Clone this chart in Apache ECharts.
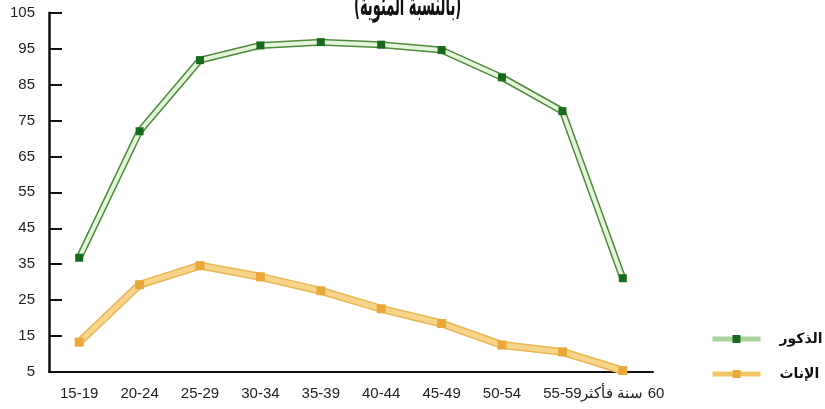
<!DOCTYPE html>
<html>
<head>
<meta charset="utf-8">
<script src="https://cdn.jsdelivr.net/npm/echarts@6/dist/echarts.min.js"></script>
<style>
html,body{margin:0;padding:0;background:#fff;}
#chart{width:825px;height:409px;}
</style>
</head>
<body>
<div id="chart"></div>
<script>
var categories = ['15-19','20-24','25-29','30-34','35-39','40-44','45-49','50-54','55-59','سنة فأكثر \u200E60'];
var yTicks = [5,15,25,35,45,55,65,75,85,95,105];
var males = [36.8, 72, 91.8, 95.9, 96.8, 96.1, 94.6, 87, 77.6, 31.1];
var females = [13.3, 29.3, 34.6, 31.5, 27.6, 22.6, 18.5, 12.5, 10.6, 5.4];
var maleName = 'الذكور';
var femaleName = 'الإناث';
var titleText = '(بالنسبة المئوية)';

var chart = echarts.init(document.getElementById('chart'), null, {renderer:'canvas'});
var font = 'Liberation Sans';
var option = {
  animation:false,
  backgroundColor:'#ffffff',
  graphic:[{
    type:'text', x:354, y:-9, scaleX:0.42, z:10,
    style:{text:titleText, fontSize:31, fontWeight:'bold', fill:'#111', fontFamily:'DejaVu Sans'}
  }],
  legend:{
    orient:'vertical', left:705, top:327, itemWidth:48, itemHeight:10, itemGap:21,
    data:[
      {name:maleName, lineStyle:{color:'#a9d298', width:5},
       textStyle:{padding:[0,0,14,14]}},
      {name:femaleName, lineStyle:{color:'#f0c666', width:5},
       textStyle:{padding:[14,0,0,14]}}
    ],
    textStyle:{fontSize:14, fontWeight:'bold', color:'#111', fontFamily:'DejaVu Sans'}
  },
  grid:{left:49, right:172, top:12.7, bottom:37},
  xAxis:{
    type:'category', data:categories, boundaryGap:true,
    axisLine:{lineStyle:{color:'#111', width:2}},
    axisTick:{inside:true, length:7, lineStyle:{color:'#111', width:2}},
    axisLabel:{fontSize:15, color:'#222', fontFamily:font, margin:14, interval:0}
  },
  yAxis:{
    type:'value', min:yTicks[0], max:yTicks[yTicks.length-1], interval:10,
    splitLine:{show:false},
    axisLine:{show:true, lineStyle:{color:'#111', width:2.5}},
    axisTick:{show:true, inside:true, length:13, lineStyle:{color:'#111', width:2}},
    axisLabel:{fontSize:15, color:'#222', fontFamily:font, margin:14}
  },
  series:[
    {name:'m-outline', type:'line', data:males, symbol:'none', silent:true,
     lineStyle:{color:'#4f8a3c', width:7}, z:1},
    {name:maleName, type:'line', data:males, symbol:'rect', symbolSize:8,
     itemStyle:{color:'#186a1c'}, lineStyle:{color:'#e4f5dc', width:4}, z:2},
    {name:'f-outline', type:'line', data:females, symbol:'none', silent:true,
     lineStyle:{color:'#eab653', width:8}, z:1},
    {name:femaleName, type:'line', data:females, symbol:'rect', symbolSize:9,
     itemStyle:{color:'#eaa83a'}, lineStyle:{color:'#f7d48a', width:5}, z:2}
  ]
};
chart.setOption(option);
</script>
</body>
</html>
